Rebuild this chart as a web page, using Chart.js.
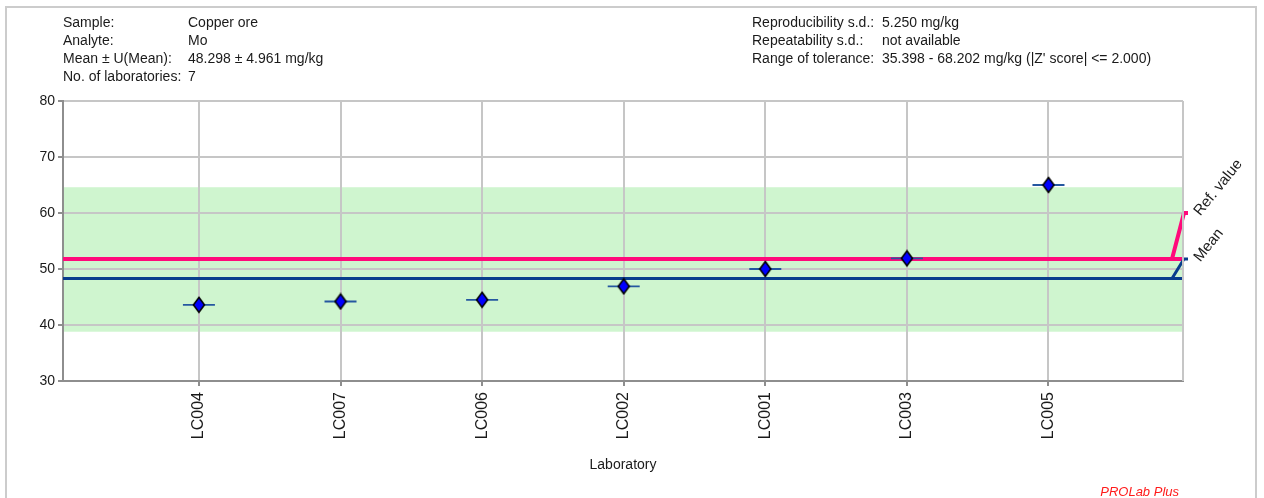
<!DOCTYPE html>
<html>
<head>
<meta charset="utf-8">
<title>Mo in copper ore – laboratory results</title>
<script src="https://cdn.jsdelivr.net/npm/chart.js@4/dist/chart.umd.min.js"></script>
<style>
  html, body { margin: 0; padding: 0; background: #ffffff; overflow: hidden; }
  canvas { display: block; }
</style>
</head>
<body>
<canvas id="chart" width="1264" height="498"></canvas>
<script>
// ---- data ----
const laboratories = ['LC004', 'LC007', 'LC006', 'LC002', 'LC001', 'LC003', 'LC005'];
const results = [43.6, 44.2, 44.5, 46.9, 50.0, 51.9, 65.0];
const refValue = 51.8;
const meanValue = 48.298;
const toleranceBand = [38.8, 64.6];
const yTicks = [30, 40, 50, 60, 70, 80];
const lineLabels = ['Ref. value', 'Mean'];
const lineLabelLevels = [60, 51.8];

const infoLeftLabels = ['Sample:', 'Analyte:', 'Mean \u00b1 U(Mean):', 'No. of laboratories:'];
const infoLeftValues = ['Copper ore', 'Mo', '48.298 \u00b1 4.961 mg/kg', '7'];
const infoRightLabels = ['Reproducibility s.d.:', 'Repeatability s.d.:', 'Range of tolerance:'];
const infoRightValues = ['5.250 mg/kg', 'not available', "35.398 - 68.202 mg/kg (|Z' score| <= 2.000)"];
const axisTitle = 'Laboratory';
const footer = 'PROLab Plus';

// ---- styling ----
const FONT = "'Liberation Sans', Arial, Helvetica, sans-serif";
const TEXT = '#1a1a1a';
const GRID = '#c6c6c6';
const AXIS = '#8e8e8e';
const REF_COLOR = '#ff0a7a';
const MEAN_COLOR = '#083d8c';
const BAND_COLOR = '#cff5cf';
const X_MIN = 0.04, X_MAX = 7.95;

function diamondMarker() {
  const c = document.createElement('canvas');
  c.width = 14; c.height = 18;
  const g = c.getContext('2d');
  g.beginPath();
  g.moveTo(7, 1.5); g.lineTo(12.5, 9); g.lineTo(7, 16.5); g.lineTo(1.5, 9);
  g.closePath();
  g.fillStyle = '#0000ff';
  g.fill();
  g.lineWidth = 1.6;
  g.strokeStyle = '#000000';
  g.stroke();
  return c;
}

const points = laboratories.map((_, i) => ({ x: i + 1, y: results[i] }));

// tolerance band, right-hand plot edge and outer frame
const backdrop = {
  id: 'backdrop',
  beforeDraw(chart) {
    const { ctx, chartArea: a, scales: { y } } = chart;
    ctx.save();
    ctx.fillStyle = '#ffffff';
    ctx.fillRect(0, 0, chart.width, chart.height);
    const top = y.getPixelForValue(toleranceBand[1]);
    const bot = y.getPixelForValue(toleranceBand[0]);
    ctx.fillStyle = BAND_COLOR;
    ctx.fillRect(a.left, top, a.right - a.left + 1, bot - top);
    ctx.restore();
  },
  afterDraw(chart) {
    const { ctx, chartArea: a } = chart;
    ctx.save();
    // right edge of the plot
    ctx.strokeStyle = GRID;
    ctx.lineWidth = 2;
    ctx.beginPath();
    ctx.moveTo(a.right, a.top);
    ctx.lineTo(a.right, a.bottom);
    ctx.stroke();
    // outer frame
    ctx.strokeStyle = '#cccccc';
    ctx.lineWidth = 2;
    ctx.beginPath();
    ctx.moveTo(6, 520);
    ctx.lineTo(6, 7);
    ctx.lineTo(1256, 7);
    ctx.lineTo(1256, 520);
    ctx.stroke();

    // header block
    ctx.fillStyle = TEXT;
    ctx.font = '14px ' + FONT;
    ctx.textBaseline = 'alphabetic';
    ctx.textAlign = 'left';
    const rows = [26.5, 44.8, 63.1, 81.4];
    infoLeftLabels.forEach((t, i) => ctx.fillText(t, 63, rows[i]));
    infoLeftValues.forEach((t, i) => ctx.fillText(t, 188, rows[i]));
    infoRightLabels.forEach((t, i) => ctx.fillText(t, 752, rows[i]));
    infoRightValues.forEach((t, i) => ctx.fillText(t, 882, rows[i]));

    // axis title
    ctx.textAlign = 'center';
    ctx.fillText(axisTitle, (a.left + a.right) / 2, 469);

    // footer
    ctx.fillStyle = '#ff1a1a';
    ctx.font = 'italic 13px ' + FONT;
    ctx.textAlign = 'right';
    ctx.fillText(footer, 1179, 496);
    ctx.restore();
  }
};

// short horizontal bars behind each result marker
const resultBars = {
  id: 'resultBars',
  beforeDatasetDraw(chart, args) {
    if (args.index !== 0) return;
    const { ctx } = chart;
    ctx.save();
    ctx.strokeStyle = '#2557a0';
    ctx.lineWidth = 1.8;
    args.meta.data.forEach(el => {
      ctx.beginPath();
      ctx.moveTo(el.x - 16, el.y);
      ctx.lineTo(el.x + 16, el.y);
      ctx.stroke();
    });
    ctx.restore();
  }
};

// leader lines and rotated labels for the reference value and the mean
const lineTags = {
  id: 'lineTags',
  afterDatasetsDraw(chart) {
    const { ctx, chartArea: a, scales: { y } } = chart;
    const tags = [
      [refValue, lineLabelLevels[0], REF_COLOR, 4, lineLabels[0]],
      [meanValue, lineLabelLevels[1], MEAN_COLOR, 3, lineLabels[1]]
    ];
    ctx.save();
    tags.forEach(([v, lv, col, w, txt]) => {
      const y0 = y.getPixelForValue(v);
      const y1 = y.getPixelForValue(lv);
      ctx.strokeStyle = col;
      ctx.lineWidth = w;
      ctx.lineJoin = 'miter';
      ctx.beginPath();
      ctx.moveTo(a.right - 11, y0);
      ctx.lineTo(a.right + 1, y1);
      ctx.lineTo(a.right + 5, y1);
      ctx.stroke();

      ctx.save();
      ctx.translate(a.right + 14, y1 + 1);
      ctx.rotate(-51 * Math.PI / 180);
      ctx.fillStyle = TEXT;
      ctx.font = '15px ' + FONT;
      ctx.textAlign = 'left';
      ctx.textBaseline = 'middle';
      ctx.fillText(txt, 0, 0);
      ctx.restore();
    });
    ctx.restore();
  }
};

new Chart(document.getElementById('chart'), {
  type: 'scatter',
  data: {
    datasets: [
      {
        label: 'Results',
        data: points,
        pointStyle: diamondMarker(),
        pointRadius: 7,
        showLine: false
      },
      {
        type: 'line',
        label: 'Mean',
        data: [{ x: X_MIN, y: meanValue }, { x: X_MAX, y: meanValue }],
        borderColor: MEAN_COLOR,
        borderWidth: 3,
        pointRadius: 0,
        fill: false
      },
      {
        type: 'line',
        label: 'Ref. value',
        data: [{ x: X_MIN, y: refValue }, { x: X_MAX, y: refValue }],
        borderColor: REF_COLOR,
        borderWidth: 4,
        pointRadius: 0,
        fill: false
      }
    ]
  },
  options: {
    responsive: false,
    animation: false,
    events: [],
    layout: { padding: { left: 0, right: 81, top: 101, bottom: 0 } },
    plugins: { legend: { display: false }, tooltip: { enabled: false } },
    scales: {
      x: {
        type: 'linear',
        min: X_MIN,
        max: X_MAX,
        afterBuildTicks(scale) {
          scale.ticks = laboratories.map((_, i) => ({ value: i + 1 }));
        },
        afterFit(scale) { scale.height = 117; },
        ticks: {
          autoSkip: false,
          minRotation: 90,
          maxRotation: 90,
          padding: 6,
          color: TEXT,
          font: { family: FONT, size: 16 },
          callback: (v) => laboratories[Math.round(v) - 1]
        },
        grid: {
          color: GRID,
          lineWidth: 2,
          tickColor: AXIS,
          tickLength: 5,
          tickWidth: 2
        },
        border: { color: AXIS, width: 2 }
      },
      y: {
        min: yTicks[0],
        max: yTicks[yTicks.length - 1],
        afterBuildTicks(scale) {
          scale.ticks = yTicks.map(v => ({ value: v }));
        },
        afterFit(scale) { scale.width = 63; },
        ticks: {
          padding: 3,
          color: TEXT,
          font: { family: FONT, size: 14 }
        },
        grid: {
          color: GRID,
          lineWidth: 2,
          tickColor: AXIS,
          tickLength: 5,
          tickWidth: 2
        },
        border: { color: AXIS, width: 2 }
      }
    }
  },
  plugins: [backdrop, resultBars, lineTags]
});
</script>
</body>
</html>
